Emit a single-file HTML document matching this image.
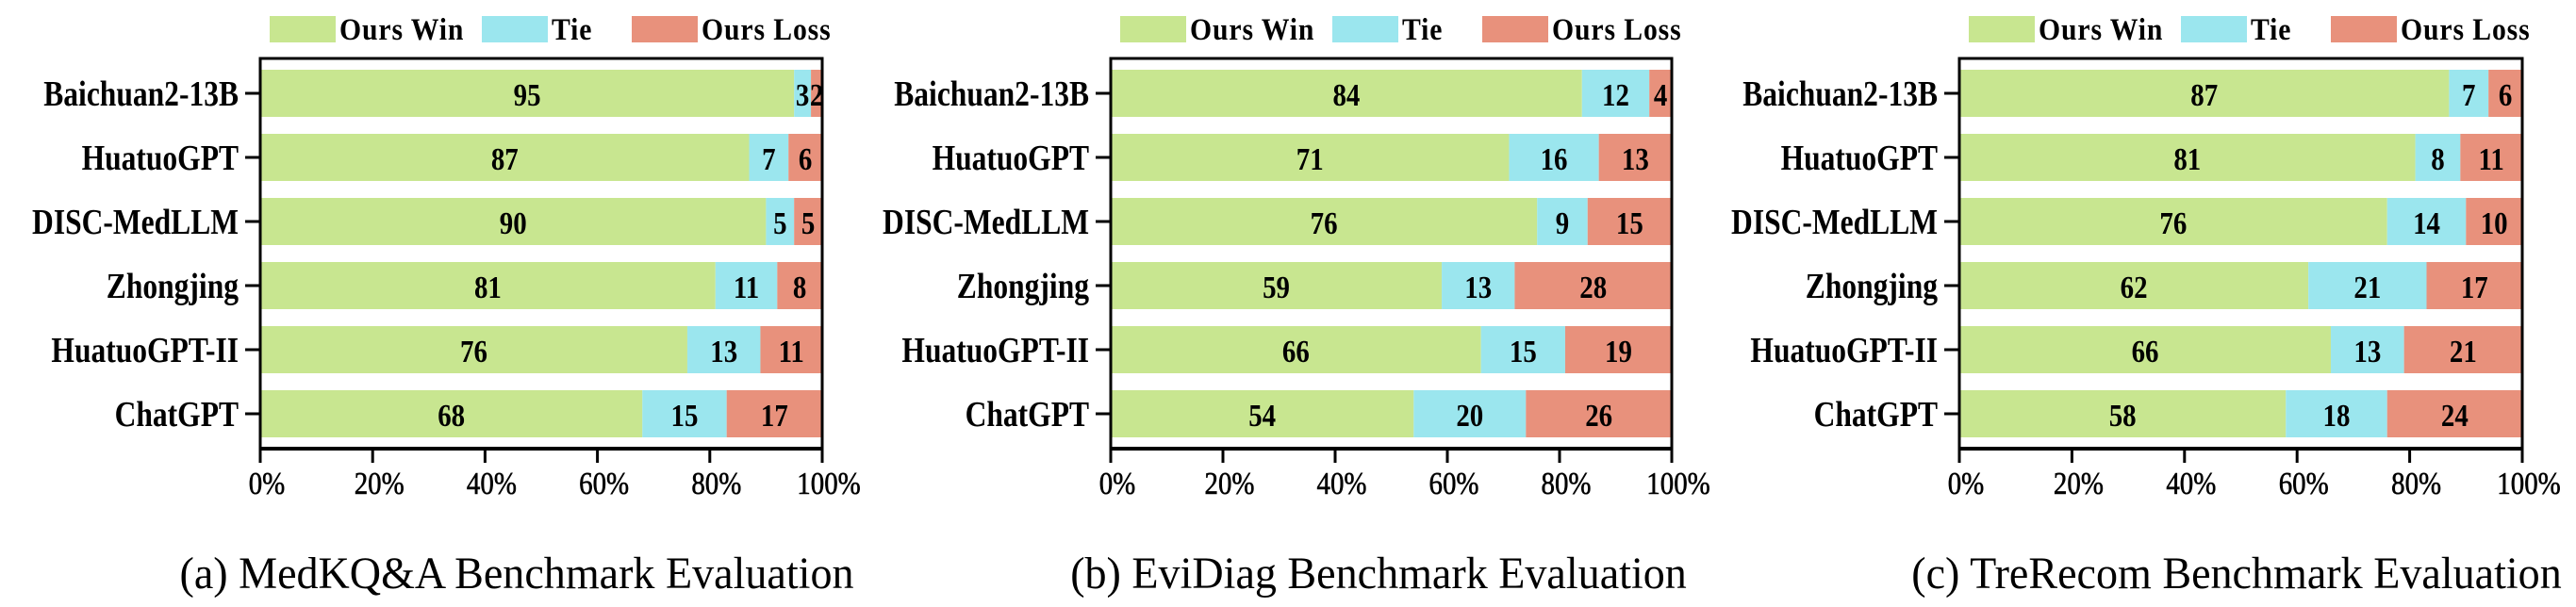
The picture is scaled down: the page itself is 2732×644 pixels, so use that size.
<!DOCTYPE html>
<html><head><meta charset="utf-8"><style>
html,body{margin:0;padding:0;background:#fff;}
svg{display:block;}
text{font-family:"Liberation Serif",serif;}
</style></head><body>
<svg id="chart" width="2732" height="644" viewBox="0 0 2732 644" xmlns="http://www.w3.org/2000/svg"></svg>
<script>
const categories = ["Baichuan2-13B","HuatuoGPT","DISC-MedLLM","Zhongjing","HuatuoGPT-II","ChatGPT"];
const seriesNames = ["Ours Win","Tie","Ours Loss"];
const winA = [95,87,90,81,76,68];
const tieA = [3,7,5,11,13,15];
const lossA = [2,6,5,8,11,17];
const winB = [84,71,76,59,66,54];
const tieB = [12,16,9,13,15,20];
const lossB = [4,13,15,28,19,26];
const winC = [87,81,76,62,66,58];
const tieC = [7,8,14,21,13,18];
const lossC = [6,11,10,17,21,24];
const tickLabels = ["0%","20%","40%","60%","80%","100%"];
const tickValues = [0,20,40,60,80,100];
const captions = ["(a) MedKQ&A Benchmark Evaluation","(b) EviDiag Benchmark Evaluation","(c) TreRecom Benchmark Evaluation"];

const colors = ["#c8e690","#9be6ee","#e8917c"];
const NS = "http://www.w3.org/2000/svg";
const svg = document.getElementById('chart');
function mk(tag, attrs, parent){
  const e = document.createElementNS(NS, tag);
  for (const k in attrs) e.setAttribute(k, attrs[k]);
  (parent||svg).appendChild(e);
  return e;
}
function txt(parent, x, y, size, sx, weight, anchor, str){
  const t = mk('text', {x: 0, y: 0, 'font-size': size, 'font-weight': weight, 'text-anchor': anchor,
    transform: 'translate(' + x + ',' + y + ') scale(' + sx + ',1)'}, parent);
  t.textContent = str;
  return t;
}
const panels = [
  {left:276, right:872, win:winA, tie:tieA, loss:lossA, cap:captions[0], capX:548},
  {left:1178, right:1773, win:winB, tie:tieB, loss:lossB, cap:captions[1], capX:1462},
  {left:2078, right:2675, win:winC, tie:tieC, loss:lossC, cap:captions[2], capX:2372}
];
const plotTop = 62, plotBottom = 476, rowStart = 99, rowStep = 68, barH = 50;
panels.forEach((p, pi) => {
  const g = mk('g', {});
  
  
  const x = v => p.left + (p.right - p.left) * v / 100;
  const y = i => rowStart + i * rowStep;
  const lx = [p.left + 10, p.left + 235, p.left + 394];
  seriesNames.forEach((s, si) => {
    const lg = mk('g', {}, g);
    
    
    mk('rect', {x: lx[si], y: 17, width: 70, height: 28, fill: colors[si]}, lg);
    txt(lg, lx[si] + 74, 42, 33, 0.9, 'bold', 'start', s).setAttribute('letter-spacing', '1');
  });
  categories.forEach((c, i) => {
    const vals = [p.win[i], p.tie[i], p.loss[i]];
    let acc = 0;
    vals.forEach((v, si) => {
      const r = mk('rect', {x: x(acc), y: y(i) - barH/2, width: x(acc + v) - x(acc), height: barH, fill: colors[si]}, g);
      
      
      const t = txt(g, (x(acc) + x(acc + v)) / 2, y(i) + 13, 34, 0.85, 'bold', 'middle', v);
      
      
      acc += v;
    });
    const lab = txt(g, p.left - 23, y(i) + 13, 38, 0.83, 'bold', 'end', c);
    
    
    mk('line', {x1: p.left - 16, x2: p.left, y1: y(i), y2: y(i), stroke: '#000', 'stroke-width': 3}, g);
  });
  const fr = mk('rect', {x: p.left, y: plotTop, width: p.right - p.left, height: plotBottom - plotTop, fill: 'none', stroke: '#000', 'stroke-width': 3}, g);
  
  
  mk('line', {x1: p.left - 1, x2: p.right + 1, y1: plotBottom, y2: plotBottom, stroke: '#000', 'stroke-width': 4}, g);
  tickValues.forEach((tv, ti) => {
    mk('line', {x1: x(tv), x2: x(tv), y1: plotBottom, y2: plotBottom + 15, stroke: '#000', 'stroke-width': 3}, g);
    const t = txt(g, x(tv) + 7, 524, 34, 0.85, 'normal', 'middle', tickLabels[ti]);
    t.setAttribute('stroke', '#000');
    t.setAttribute('stroke-width', '0.6');
    
    
  });
  const cap = txt(g, p.capX, 624, 48, 0.96, 'normal', 'middle', p.cap);
  
  
});
</script>
</body></html>
